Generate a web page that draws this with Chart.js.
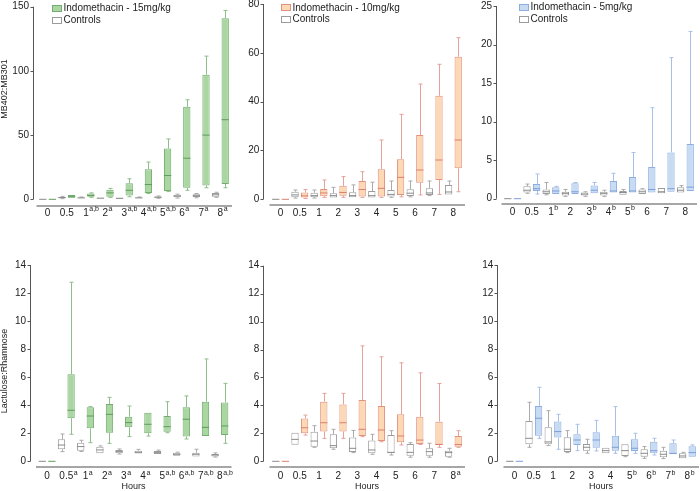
<!DOCTYPE html>
<html>
<head>
<meta charset="utf-8">
<script src="https://cdn.jsdelivr.net/npm/chart.js@4.4.0/dist/chart.umd.min.js"></script>
<style>
  html, body { margin: 0; padding: 0; background: #fff; }
  #wrap { position: relative; width: 700px; height: 491px; overflow: hidden; }
  #wrap canvas { position: absolute; left: 0; top: 0; }
</style>
</head>
<body>
<div id="wrap">
  <canvas id="c1" width="700" height="491"></canvas>
  <canvas id="c2" width="700" height="491"></canvas>
  <canvas id="c3" width="700" height="491"></canvas>
  <canvas id="c4" width="700" height="491"></canvas>
  <canvas id="c5" width="700" height="491"></canvas>
  <canvas id="c6" width="700" height="491"></canvas>
</div>
<script>
// x categories (hours)
const hours = ['0', '0.5', '1', '2', '3', '4', '5', '6', '7', '8'];

// superscripts under each hour
const mb15Sup = ['', '', 'a,b', 'a', 'a,b', 'a,b', 'a,b', 'a', 'a', 'a'];
const mb10Sup = ['', '', '', '', '', '', '', '', '', ''];
const mb5Sup  = ['', '', 'b', '', 'b', 'b', 'b', '', '', ''];
const lr15Sup = ['', 'a', 'a', 'a', 'a', 'a', 'a,b', 'a,b', 'a,b', 'a,b'];
const lr10Sup = ['', '', '', '', '', '', '', '', '', 'a'];
const lr5Sup  = ['', '', '', '', '', '', 'b', 'b', 'b', 'b'];

// box stats: [min, q1, median, q3, max]
const mb15Ctrl = [[0,0,0,0,0],[0.5,1,1.3,1.8,2.3],[0.5,0.8,1.1,1.4,1.8],[0.3,0.6,0.9,1.1,1.4],[0.3,0.5,0.8,1,1.2],
  [0.5,0.8,1.1,1.4,1.8],[0.8,1.2,1.6,2.2,2.6],[1,1.5,2.5,3.5,4],[1.2,1.8,2.8,4,4.5],[1.5,2,3.5,5,5.5]];
const mb15Indo = [[0,0,0,0,0],[1,1.2,2,3.3,3.5],[1.5,2,3,4.5,5],[1.5,2,5,7.5,8.5],[2,3,7,12.5,16],
  [4.5,5,11.5,23.5,29],[6,6.5,18.5,39.5,47],[7,9,32,72,77.5],[9,10.8,50,97,111.5],[9,12,62,141,147]];

const mb10Ctrl = [[0,0,0,0,0],[0.5,0.8,1.8,3.1,3.8],[0.5,0.8,1.5,2.7,3.8],[0.5,0.7,1.5,2.5,4.9],[0.6,0.8,1.5,2.9,5.9],
  [0.5,0.7,1.5,3.4,7],[0.8,1.1,2,3.8,7.5],[1,1.4,2.5,4.1,7.5],[1.5,1.8,2.6,4.5,7.5],[1.8,2,3,5.9,7.5]];
const mb10Indo = [[0,0,0,0,0],[0.3,0.7,1.4,2.8,4],[0.8,1.3,2.6,4.2,7.9],[0.8,1.5,2.8,5.5,9.3],[0.8,1.1,4,7.5,11.3],
  [0.8,1.1,4.5,12.3,24.3],[1,1.8,9,16.4,34.8],[1.8,6.8,12,26.3,47.2],[2,7.9,16.1,42.4,55.3],[3.1,12.7,24.3,58.4,66.2]];

const mb5Ctrl = [[0,0,0,0,0],[0.7,0.8,1.1,1.6,1.9],[0.5,0.6,0.9,1.2,2.1],[0.3,0.4,0.7,0.9,1.2],[0.3,0.4,0.6,0.8,0.9],
  [0.3,0.4,0.7,0.9,1.1],[0.5,0.5,0.8,1,1.2],[0.6,0.6,0.9,1.2,1.3],[0.7,0.7,0.9,1.4,1.4],[0.8,0.8,1.1,1.5,1.7]];
const mb5Indo = [[0,0,0,0,0],[0.6,1,1.3,1.9,3.2],[0.6,0.6,1,1.5,1.6],[0.6,0.6,0.9,2,2.1],[0.7,0.7,1.1,1.7,2.1],
  [0.8,0.8,1,2.3,3.3],[0.8,0.8,1,2.8,6],[0.8,0.8,1.2,4.1,11.8],[0.9,0.9,1.3,6,18.3],[1,1,1.5,7.1,21.7]];

const lr15Ctrl = [[0,0,0,0,0],[0.69,0.86,1.16,1.57,1.95],[0.7,0.76,1.05,1.33,1.5],[0.55,0.57,0.81,1.04,1.1],[0.52,0.57,0.69,0.81,0.88],
  [0.52,0.55,0.64,0.76,0.85],[0.5,0.52,0.64,0.74,0.8],[0.38,0.4,0.5,0.61,0.65],[0.33,0.35,0.5,0.61,0.86],[0.3,0.35,0.45,0.52,0.6]];
const lr15Indo = [[0,0,0,0,0],[1.93,3.07,3.64,6.2,12.77],[1.33,2.35,3.23,3.85,3.9],[1.28,2.04,3.35,4.09,4.56],[1.76,2.42,2.76,3.18,3.94],
  [1.8,2,2.64,3.47,3.5],[2.04,2.11,2.47,3.23,4.25],[1.59,1.76,3,3.85,4.66],[1.8,1.8,2.42,4.25,7.3],[1.28,1.87,2.52,4.2,5.56]];

const lr10Ctrl = [[0,0,0,0,0],[1.19,1.19,1.57,2.05,2.05],[1,1.05,1.45,2.12,2.55],[0.86,0.93,1.12,1.93,2.29],[0.62,0.67,0.93,1.71,2.21],
  [0.5,0.57,0.81,1.48,1.93],[0.45,0.57,0.64,1.88,2.19],[0.29,0.4,0.64,1.24,1.33],[0.29,0.4,0.69,0.93,1.29],[0.29,0.33,0.62,0.76,0.93]];
const lr10Indo = [[0,0,0,0,0],[1.88,2,2.4,3.07,3.31],[1.64,2.14,2.76,4.26,4.86],[1.64,2.14,2.76,4.07,4.86],[1.76,1.81,2.29,4.38,8.26],
  [1.4,1.45,2.24,3.95,7.48],[1.17,1.36,1.81,3.36,7.05],[1.2,1.24,1.52,3.19,6.33],[1,1.17,1.21,2.83,5.57],[1,1.05,1.2,1.81,2.19]];

const lr5Ctrl = [[0,0,0,0,0],[1,1.21,1.64,2.88,4.21],[1.12,1.21,1.38,2.42,3.61],[0.62,0.67,0.86,1.71,2.19],[0.57,0.76,1,1.24,1.57],
  [0.55,0.57,0.76,0.97,1],[0.33,0.38,0.76,1.21,1.24],[0.21,0.33,0.57,0.86,1.05],[0.19,0.29,0.5,0.76,1],[0.19,0.21,0.38,0.57,0.64]];
const lr5Indo = [[0,0,0,0,0],[1.64,1.83,3.07,3.95,5.28],[0.86,1.69,2.12,2.83,3.35],[0.76,1.17,1.52,1.93,2.64],[0.74,0.97,1.52,2.07,2.92],
  [0.57,0.76,1,1.83,3.9],[0.57,0.74,0.93,1.57,2],[0.45,0.57,0.76,1.4,1.64],[0.5,0.5,0.57,1.28,1.52],[0.33,0.33,0.62,1.07,1.17]];

const FONT = '"Liberation Sans", Arial, Helvetica, sans-serif';

const ctrlStyle   = { fill: '#ffffff', border: '#9b9b9b', whisker: '#ababab', median: '#8a8a8a' };
const greenStyle  = { fill: '#a9d6a1', border: '#72ad6f', whisker: '#8fbd8c', median: '#5f9c5c' };
const orangeStyle = { fill: '#fdd8b4', border: '#e2917f', whisker: '#e4a29b', median: '#d9806d' };
const blueStyle   = { fill: '#c7dbf3', border: '#8eaee0', whisker: '#a8c0e7', median: '#7c9ed8' };

const panels = [
  { id: 'c1', ctrl: mb15Ctrl, indo: mb15Indo, sup: mb15Sup, max: 150, step: 50, st: greenStyle,
    dose: 'Indomethacin - 15mg/kg', yTitle: 'MB402:MB301', titleY: 89,
    axisX: 33, areaLeft: 38, yTop: 6.7, yZero: 199.3, xLine: 206, labelY: 213, legend: { x: 52, y: 8 } },
  { id: 'c2', ctrl: mb10Ctrl, indo: mb10Indo, sup: mb10Sup, max: 80, step: 20, st: orangeStyle,
    dose: 'Indomethacin - 10mg/kg',
    axisX: 263.3, areaLeft: 271, yTop: 4, yZero: 199.3, xLine: 205, labelY: 213, legend: { x: 281, y: 7.3 } },
  { id: 'c3', ctrl: mb5Ctrl, indo: mb5Indo, sup: mb5Sup, max: 25, step: 5, st: blueStyle,
    dose: 'Indomethacin - 5mg/kg',
    axisX: 496, areaLeft: 503, yTop: 6, yZero: 198.7, xLine: 204, labelY: 212, legend: { x: 519, y: 7 } },
  { id: 'c4', ctrl: lr15Ctrl, indo: lr15Indo, sup: lr15Sup, max: 14, step: 2, st: greenStyle,
    yTitle: 'Lactulose:Rhamnose', titleY: 371, hoursY: 487,
    axisX: 30, areaLeft: 37.5, yTop: 265, yZero: 461.3, xLine: 467, labelY: 476.5 },
  { id: 'c5', ctrl: lr10Ctrl, indo: lr10Indo, sup: lr10Sup, max: 14, step: 2, st: orangeStyle, hoursY: 487,
    axisX: 263.3, areaLeft: 271, yTop: 265.7, yZero: 461.3, xLine: 467, labelY: 476.5 },
  { id: 'c6', ctrl: lr5Ctrl, indo: lr5Indo, sup: lr5Sup, max: 14, step: 2, st: blueStyle, hoursY: 487,
    axisX: 497.3, areaLeft: 505, yTop: 265, yZero: 461.3, xLine: 467, labelY: 476.5 }
];

function seg(ctx, x1, y1, x2, y2) {
  ctx.beginPath();
  ctx.moveTo(x1, y1);
  ctx.lineTo(x2, y2);
  ctx.stroke();
}

function makeOverlay(p) {
  return {
    id: 'overlay_' + p.id,
    afterDatasetsDraw(chart) {
      const ctx = chart.ctx, yS = chart.scales.y;
      ctx.save();
      ctx.lineWidth = 1;
      chart.data.datasets.forEach((ds, di) => {
        chart.getDatasetMeta(di).data.forEach((bar, i) => {
          const s = ds.stats[i];
          const x = Math.round(bar.x) + 0.5, hw = bar.width / 2;
          const pMin = yS.getPixelForValue(s[0]), pQ1 = yS.getPixelForValue(s[1]);
          const pMed = yS.getPixelForValue(s[2]), pQ3 = yS.getPixelForValue(s[3]);
          const pMax = yS.getPixelForValue(s[4]);
          ctx.strokeStyle = ds.whiskerColor;
          if (pQ3 - pMax > 0.5) {
            seg(ctx, x, pMax, x, pQ3);
            seg(ctx, x - 2, pMax, x + 2, pMax);
          }
          if (pMin - pQ1 > 0.5) {
            seg(ctx, x, pQ1, x, pMin);
            seg(ctx, x - 2, pMin, x + 2, pMin);
          }
          ctx.strokeStyle = ds.medianColor;
          seg(ctx, bar.x - hw, pMed, bar.x + hw, pMed);
        });
      });
      ctx.restore();
    },
    afterDraw(chart) {
      const ctx = chart.ctx, yS = chart.scales.y, xS = chart.scales.x, ca = chart.chartArea;
      ctx.save();
      // y axis line, tick marks and tick labels
      const ax = Math.round(p.axisX) + 0.5;
      ctx.strokeStyle = '#555';
      ctx.lineWidth = 1;
      seg(ctx, ax, yS.getPixelForValue(p.max), ax, yS.getPixelForValue(0));
      ctx.fillStyle = '#222';
      ctx.font = '10px ' + FONT;
      ctx.textAlign = 'right';
      ctx.textBaseline = 'middle';
      yS.ticks.forEach(t => {
        const py = yS.getPixelForValue(t.value);
        seg(ctx, ax - 3, Math.round(py) + 0.5, ax, Math.round(py) + 0.5);
        ctx.fillText(String(t.value), p.axisX - 4, py);
      });
      // x axis line, set below the zero line
      ctx.strokeStyle = '#a6a6a6';
      ctx.lineWidth = 2;
      seg(ctx, ca.left - 1.5, p.xLine, ca.right + 2, p.xLine);
      // hour labels with superscripts
      hours.forEach((h, i) => {
        const cx = xS.getPixelForValue(i);
        ctx.font = '10px ' + FONT;
        ctx.textAlign = 'center';
        ctx.fillText(h, cx, p.labelY);
        if (p.sup[i]) {
          const w = ctx.measureText(h).width;
          ctx.font = '7px ' + FONT;
          ctx.textAlign = 'left';
          ctx.fillText(p.sup[i], cx + w / 2 + 0.5, p.labelY - 3.5);
        }
      });
      if (p.hoursY) {
        ctx.font = '9px ' + FONT;
        ctx.textAlign = 'center';
        ctx.fillText('Hours', (ca.left + ca.right) / 2, p.hoursY);
      }
      if (p.yTitle) {
        ctx.save();
        ctx.translate(4.5, p.titleY);
        ctx.rotate(-Math.PI / 2);
        ctx.font = '9px ' + FONT;
        ctx.textAlign = 'center';
        ctx.fillText(p.yTitle, 0, 0);
        ctx.restore();
      }
      if (p.legend) {
        const lx = p.legend.x, ly = p.legend.y;
        const items = [[p.st, p.dose], [ctrlStyle, 'Controls']];
        items.forEach(([st, txt], k) => {
          const yy = ly + k * 11.5;
          ctx.fillStyle = st.fill;
          ctx.fillRect(lx + 0.5, yy - 3, 9, 6);
          ctx.strokeStyle = st.border;
          ctx.lineWidth = 1;
          ctx.strokeRect(lx + 0.5, Math.round(yy - 3) + 0.5, 9, 6);
          ctx.fillStyle = '#222';
          ctx.font = '10px ' + FONT;
          ctx.textAlign = 'left';
          ctx.fillText(txt, lx + 11.5, yy + 0.5);
        });
      }
      ctx.restore();
    }
  };
}

panels.forEach(p => {
  const W = 700, H = 491, yW = 30, xH = 20;
  const areaRight = p.areaLeft + 192;
  const mkSet = (stats, st) => ({
    data: stats.map(s => [s[1], s[3]]),
    stats: stats,
    backgroundColor: st.fill,
    borderColor: st.border,
    borderWidth: 1,
    borderSkipped: false,
    whiskerColor: st.whisker,
    medianColor: st.median,
    categoryPercentage: 1.0,
    barPercentage: 0.76
  });
  new Chart(document.getElementById(p.id), {
    type: 'bar',
    data: {
      labels: hours,
      datasets: [mkSet(p.ctrl, ctrlStyle), mkSet(p.indo, p.st)]
    },
    options: {
      responsive: false,
      animation: false,
      events: [],
      layout: {
        padding: { left: p.areaLeft - yW, right: W - areaRight, top: p.yTop, bottom: H - p.yZero - xH }
      },
      plugins: { legend: { display: false }, tooltip: { enabled: false } },
      scales: {
        x: {
          grid: { display: false },
          border: { display: false },
          ticks: { display: false },
          afterFit: s => { s.height = xH; }
        },
        y: {
          min: 0,
          max: p.max,
          grid: { display: false },
          border: { display: false },
          // labels are drawn by the overlay next to the offset axis line
          ticks: { stepSize: p.step, display: false },
          afterFit: s => { s.width = yW; }
        }
      }
    },
    plugins: [makeOverlay(p)]
  });
});
</script>
</body>
</html>
